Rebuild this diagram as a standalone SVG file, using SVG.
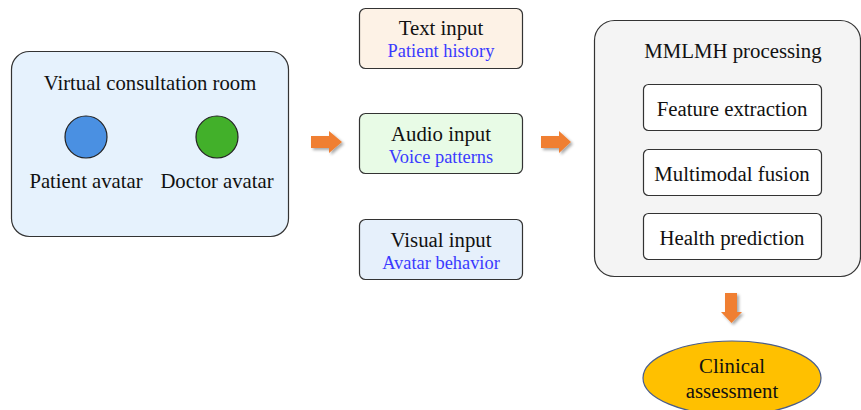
<svg xmlns="http://www.w3.org/2000/svg" width="861" height="410" viewBox="0 0 861 410">
<defs>
<style>
.t{font-family:"Liberation Serif","Times New Roman",serif;fill:#111;text-anchor:middle}
.big{font-size:20.7px}
.mid{font-size:20.8px}
.sub{font-size:18.4px;fill:#3a3aff}
.box{stroke:#333;stroke-width:1.2}
.arrow{fill:#f07f30}
</style>
<filter id="sh" x="-30%" y="-30%" width="160%" height="160%">
<feGaussianBlur in="SourceAlpha" stdDeviation="1.5"/>
<feOffset dx="1.5" dy="1.5"/>
<feComponentTransfer><feFuncA type="linear" slope="0.35"/></feComponentTransfer>
<feMerge><feMergeNode/><feMergeNode in="SourceGraphic"/></feMerge>
</filter>
</defs>
<rect width="861" height="410" fill="#fff"/>
<g id="room">
<rect class="box" x="11.5" y="51.5" width="277" height="185" rx="18" fill="#e6f2fd"/>
<text class="t big" x="150" y="90">Virtual consultation room</text>
</g>
<g id="patient">
<circle cx="86" cy="137" r="21" fill="#4a90e2" stroke="#222" stroke-width="1.2"/>
<text class="t big" x="86" y="188">Patient avatar</text>
</g>
<g id="doctor">
<circle cx="217" cy="137" r="21" fill="#42b02a" stroke="#222" stroke-width="1.2"/>
<text class="t big" x="217" y="188">Doctor avatar</text>
</g>
<g id="text-input">
<rect class="box" x="359.5" y="8.5" width="163" height="60" rx="6" fill="#fdf2e6"/>
<text class="t mid" x="441" y="35">Text input</text>
<text class="t sub" x="441" y="57">Patient history</text>
</g>
<g id="audio-input">
<rect class="box" x="359.5" y="113.5" width="163" height="60" rx="6" fill="#e8fbe6"/>
<text class="t mid" x="441" y="141">Audio input</text>
<text class="t sub" x="441" y="163">Voice patterns</text>
</g>
<g id="visual-input">
<rect class="box" x="359.5" y="219.5" width="163" height="60" rx="6" fill="#e6f0fb"/>
<text class="t mid" x="441" y="247">Visual input</text>
<text class="t sub" x="441" y="269">Avatar behavior</text>
</g>
<g id="mmlmh">
<rect class="box" x="594.5" y="20.5" width="266" height="256" rx="20" fill="#f4f4f4"/>
<text class="t mid" x="733" y="58">MMLMH processing</text>
</g>
<g id="feature">
<rect class="box" x="643.5" y="84.5" width="178" height="46" rx="5" fill="#fff"/>
<text class="t mid" x="732" y="115.5">Feature extraction</text>
</g>
<g id="fusion">
<rect class="box" x="643.5" y="149.5" width="178" height="46" rx="5" fill="#fff"/>
<text class="t mid" x="732" y="180.5">Multimodal fusion</text>
</g>
<g id="health">
<rect class="box" x="643.5" y="213.5" width="178" height="46" rx="5" fill="#fff"/>
<text class="t mid" x="732" y="244.5">Health prediction</text>
</g>
<g id="clinical">
<ellipse cx="732" cy="378" rx="89" ry="37" fill="#ffc000" stroke="#4a5d8a" stroke-width="1.2"/>
<text class="t mid" x="732" y="373">Clinical</text>
<text class="t mid" x="732" y="398">assessment</text>
</g>
<g id="connectors" filter="url(#sh)">
<polygon class="arrow" points="311,136 329,136 329,131 342,142 329,153 329,148 311,148"/>
<polygon class="arrow" points="541,136 559,136 559,131 571,142 559,153 559,148 541,148"/>
<polygon class="arrow" points="725,293 737,293 737,312 742,312 731.5,323 721,312 725,312"/>
</g>
</svg>
